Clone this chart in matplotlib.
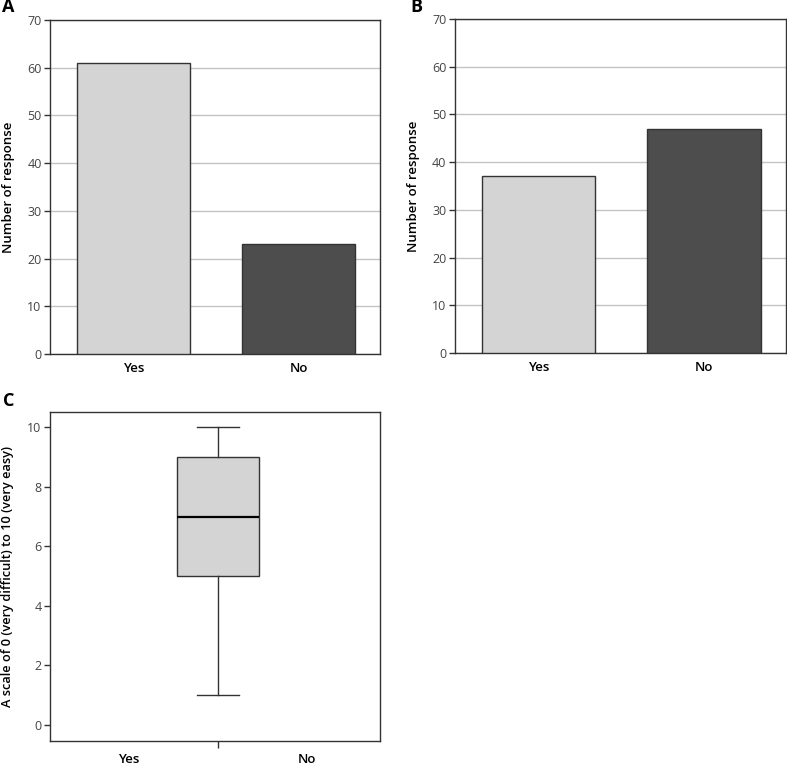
import matplotlib.pyplot as plt

plt.rcParams['font.family'] = ['Open Sans', 'DejaVu Sans']

categories = ["Yes", "No"]
counts_a = [61, 23]
counts_b = [37, 47]
bar_colors = ["#d4d4d4", "#4d4d4d"]

# box C: five-number summary
box_stats = {"label": "", "whislo": 1, "q1": 5, "med": 7, "q3": 9, "whishi": 10}
box_ticks = [0, 2, 4, 6, 8, 10]

EDGE = "#333333"
TICKC = "#444444"


def style_axes(ax):
	for s in ax.spines.values():
		s.set_color(EDGE)
		s.set_linewidth(1.0)
	ax.tick_params(axis="y", direction="out", length=4, width=1, color=EDGE,
		labelsize=9, labelcolor=TICKC, pad=2)
	ax.tick_params(axis="x", length=0, labelsize=9.5, pad=6)
	for lb in ax.get_xticklabels():
		lb.set_fontweight("semibold")


def bar_panel(ax, values):
	x = list(range(len(categories)))
	ax.bar(x, values, width=0.685, color=bar_colors, edgecolor=EDGE, linewidth=1.0, zorder=3)
	ax.set_xlim(-0.506, 1.494)
	ax.set_ylim(0, 70)
	ax.set_yticks(range(0, 71, 10))
	ax.yaxis.grid(True, color="#c4c4c4", linewidth=1.0, zorder=0)
	ax.set_axisbelow(True)
	ax.set_xticks(x)
	ax.set_xticklabels(categories)
	ax.set_ylabel("Number of response", fontsize=9.5, fontweight="semibold", labelpad=9)
	style_axes(ax)


fig = plt.figure(figsize=(7.87, 7.68), dpi=100)

ax_a = fig.add_axes([0.0635, 0.539, 0.4193, 0.435])
bar_panel(ax_a, counts_a)

ax_b = fig.add_axes([0.578, 0.5404, 0.4206, 0.435])
bar_panel(ax_b, counts_b)

ax_c = fig.add_axes([0.0635, 0.0352, 0.4193, 0.4284])
ax_c.bxp([box_stats], positions=[0.018], widths=0.5, showfliers=False, patch_artist=True,
	boxprops=dict(facecolor="#d4d4d4", edgecolor=EDGE, linewidth=1.0),
	medianprops=dict(color="black", linewidth=1.6),
	whiskerprops=dict(color=EDGE, linewidth=1.0),
	capprops=dict(color=EDGE, linewidth=1.0), capwidths=0.255)
ax_c.set_xlim(-1, 1)
ax_c.set_ylim(-0.54, 10.52)
ax_c.set_yticks(box_ticks)
ax_c.set_xticks([0.018])
ax_c.set_xticklabels([""])
ax_c.set_xticks([-0.52, 0.56], minor=True)
ax_c.set_xticklabels(categories, minor=True)
ax_c.set_ylabel("A scale of 0 (very difficult) to 10 (very easy)", fontsize=9.2,
	fontweight="semibold", labelpad=10)
style_axes(ax_c)
ax_c.tick_params(axis="x", which="major", direction="out", length=5, width=1, color=EDGE)
ax_c.tick_params(axis="x", which="minor", length=0, labelsize=9.5, pad=9)
for lb in ax_c.get_xticklabels(minor=True):
	lb.set_fontweight("semibold")

for letter, fx, fy in [("A", 0.003, 1.002), ("B", 0.521, 1.002), ("C", 0.004, 0.49)]:
	fig.text(fx, fy, letter, fontsize=13, fontweight="bold", ha="left", va="top")

fig.savefig("out.png", dpi=100)
